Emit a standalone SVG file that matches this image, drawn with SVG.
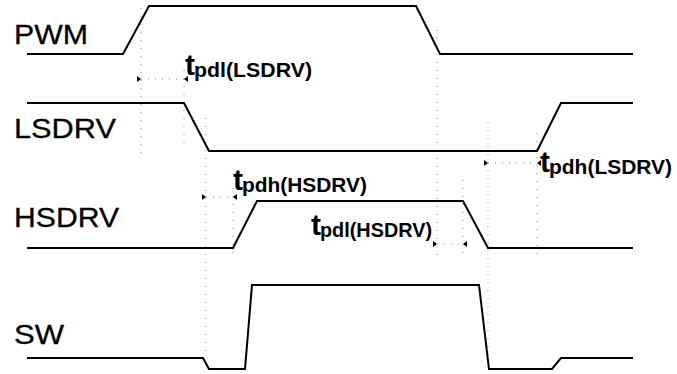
<svg xmlns="http://www.w3.org/2000/svg" width="677" height="374" viewBox="0 0 677 374">
<style>
.wave{fill:none;stroke:#000;stroke-width:2;stroke-linejoin:miter}
.guide{fill:none;stroke:#888;stroke-width:1;stroke-dasharray:1 7}
.dim{fill:none;stroke:#888;stroke-width:1;stroke-dasharray:1 6}
.head{fill:#000}
.sig{font-family:"Liberation Sans",Arial,sans-serif;font-size:27px;fill:#000;stroke:#000;stroke-width:0.3}
.t{font-family:"Liberation Sans",Arial,sans-serif;font-size:30px;font-weight:bold;fill:#000}
.sub{font-family:"Liberation Sans",Arial,sans-serif;font-size:20.5px;font-weight:bold;fill:#000}
</style>
<rect width="677" height="374" fill="#fff"/>
<g id="guides">
<line class="guide" x1="141" y1="8" x2="141" y2="156"/>
<line class="guide" x1="184" y1="70" x2="184" y2="146"/>
<line class="guide" x1="206" y1="118" x2="206" y2="356"/>
<line class="guide" x1="233" y1="188" x2="233" y2="256"/>
<line class="guide" x1="437" y1="30" x2="437" y2="256"/>
<line class="guide" x1="463" y1="180" x2="463" y2="256"/>
<line class="guide" x1="488" y1="122" x2="488" y2="360"/>
<line class="guide" x1="537" y1="133" x2="537" y2="256"/>
</g>
<g id="PWM">
<text class="sig" x="14" y="44" textLength="74" lengthAdjust="spacingAndGlyphs">PWM</text>
<path class="wave" d="M27,54 L123,54 L149,6 L416,6 L440,54 L633,54"/>
</g>
<g id="LSDRV">
<text class="sig" x="14" y="138" textLength="102" lengthAdjust="spacingAndGlyphs">LSDRV</text>
<path class="wave" d="M27,103 L184,103 L209,151 L537,151 L561,103 L633,103"/>
</g>
<g id="HSDRV">
<text class="sig" x="14" y="227" textLength="105" lengthAdjust="spacingAndGlyphs">HSDRV</text>
<path class="wave" d="M27,248 L233,248 L257,201 L463,201 L488,248 L633,248"/>
</g>
<g id="SW">
<text class="sig" x="14" y="344" textLength="50" lengthAdjust="spacingAndGlyphs">SW</text>
<path class="wave" d="M27,358 L203,358 L209,369 L245,369 L252,285 L479,285 L489,369 L552,369 L561,358 L633,358"/>
</g>
<g id="connectors">
<line class="dim" x1="141" y1="79" x2="184" y2="79"/>
<polygon class="head" points="141,79 137,76 137,82"/>
<polygon class="head" points="184,79 188,76 188,82"/>
<line class="dim" x1="206" y1="197" x2="233" y2="197"/>
<polygon class="head" points="206,197 202,194 202,200"/>
<polygon class="head" points="233,197 237,194 237,200"/>
<line class="dim" x1="437" y1="244" x2="463" y2="244"/>
<polygon class="head" points="437,244 433,241 433,247"/>
<polygon class="head" points="463,244 467,241 467,247"/>
<line class="dim" x1="488" y1="163" x2="537" y2="163"/>
<polygon class="head" points="488,163 484,160 484,166"/>
<polygon class="head" points="537,163 541,160 541,166"/>
</g>
<g id="label-tpdl-lsdrv">
<text class="t" x="185" y="75">t</text>
<text class="sub" x="194" y="77" textLength="118" lengthAdjust="spacingAndGlyphs">pdl(LSDRV)</text>
</g>
<g id="label-tpdh-hsdrv">
<text class="t" x="233" y="190">t</text>
<text class="sub" x="242" y="192" textLength="125" lengthAdjust="spacingAndGlyphs">pdh(HSDRV)</text>
</g>
<g id="label-tpdl-hsdrv">
<text class="t" x="311" y="235">t</text>
<text class="sub" x="320" y="237" textLength="112" lengthAdjust="spacingAndGlyphs">pdl(HSDRV)</text>
</g>
<g id="label-tpdh-lsdrv">
<text class="t" x="540" y="172">t</text>
<text class="sub" x="549" y="174" textLength="123" lengthAdjust="spacingAndGlyphs">pdh(LSDRV)</text>
</g>
</svg>
